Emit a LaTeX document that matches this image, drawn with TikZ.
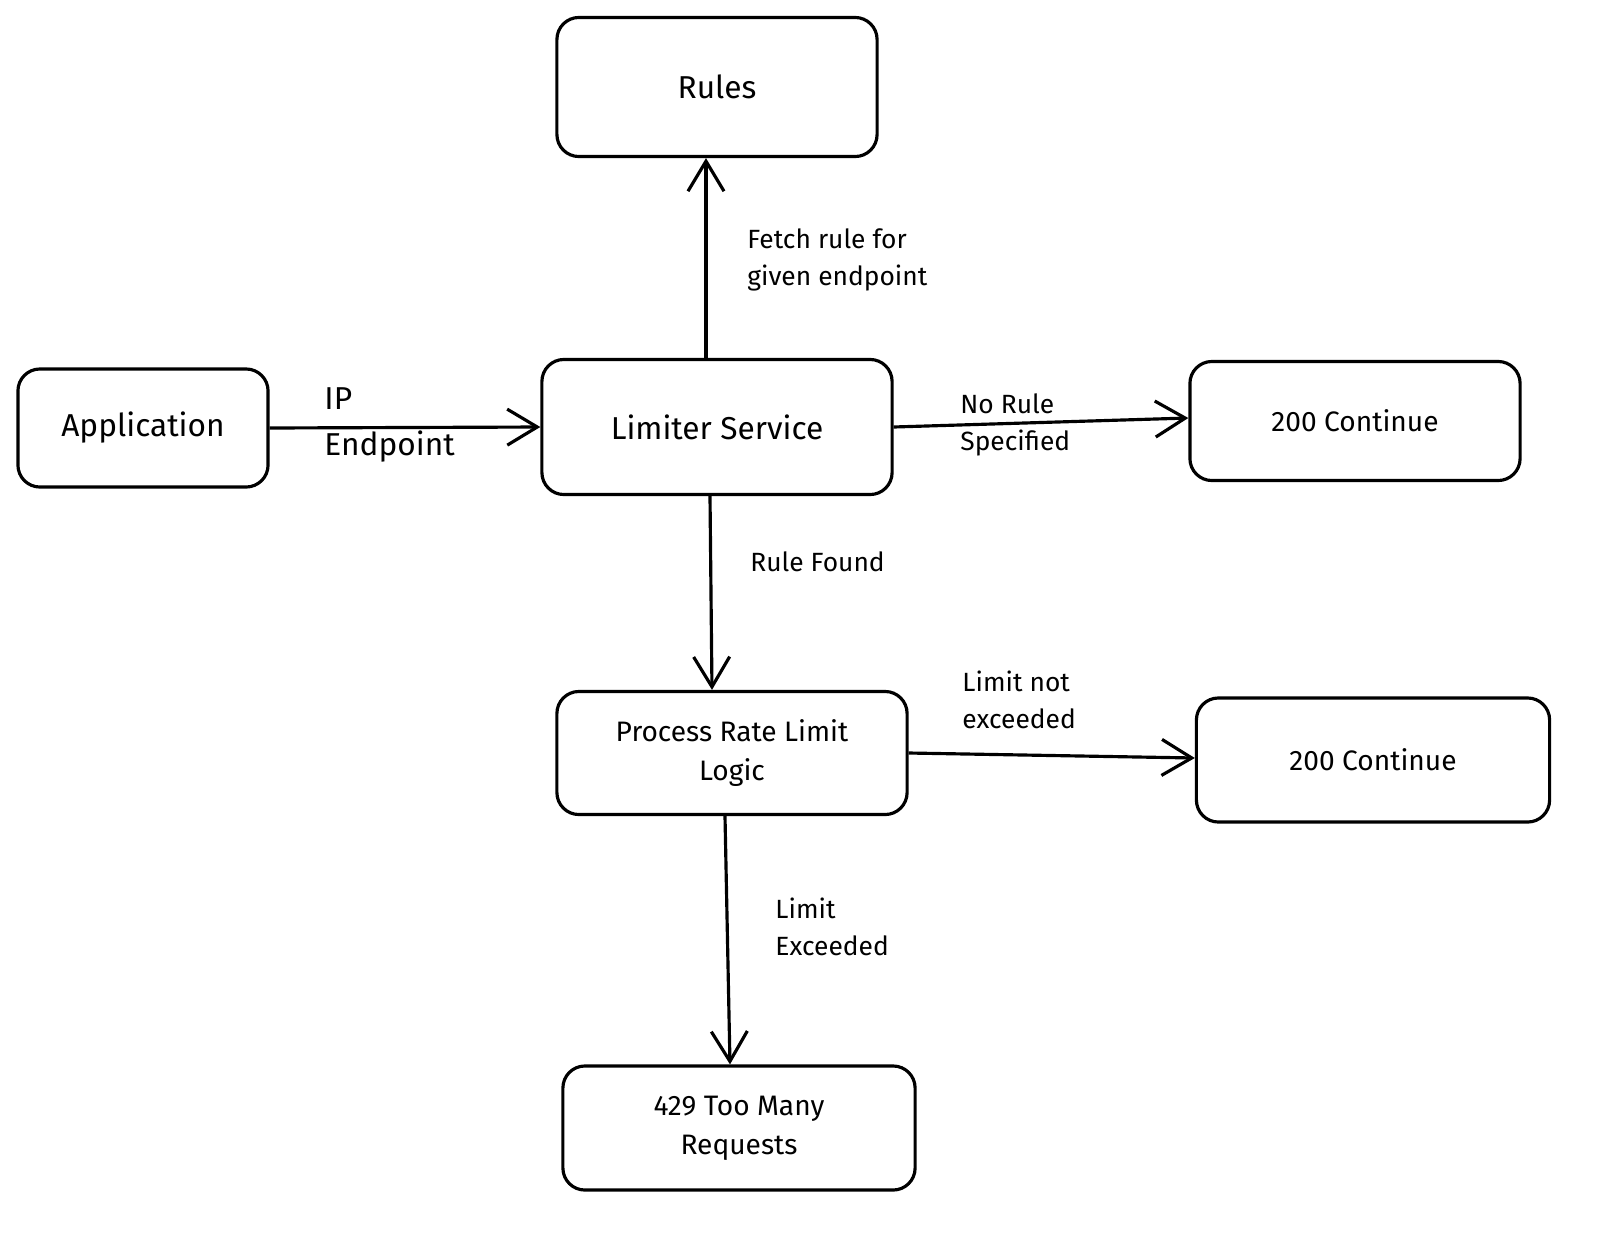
\documentclass[tikz,border=0pt]{standalone}
\usepackage{fontspec}
\setmainfont{Fira Sans}
\usetikzlibrary{arrows.meta}
\begin{document}
\begin{tikzpicture}[x=0.01cm,y=-0.01cm,
  box/.style={draw,line width=0.9pt,rounded corners=0.22cm,align=center,font=\fontsize{9}{12}\selectfont,inner sep=0pt},
  arr/.style={line width=0.9pt,-{Straight Barb[length=3mm,width=3.6mm,line width=0.9pt]}},
  lbl/.style={align=left,anchor=west,font=\fontsize{7.5}{10.5}\selectfont}]
\useasboundingbox (0,0) rectangle (1600,1233);
\node[box,minimum width=3.2cm,minimum height=1.39cm] (rules) at (717,87) {Rules};
\node[box,minimum width=2.5cm,minimum height=1.18cm] (app) at (143,428) {Application};
\node[box,minimum width=3.5cm,minimum height=1.35cm] (lim) at (717,427) {Limiter Service};
\node[box,minimum width=3.3cm,minimum height=1.19cm,font=\fontsize{8}{11}\selectfont] (ok1) at (1355,421) {200 Continue};
\node[box,minimum width=3.5cm,minimum height=1.23cm,font=\fontsize{8}{11}\selectfont] (proc) at (732,753) {Process Rate Limit\\Logic};
\node[box,minimum width=3.53cm,minimum height=1.24cm,font=\fontsize{8}{11}\selectfont] (ok2) at (1373,760) {200 Continue};
\node[box,minimum width=3.52cm,minimum height=1.24cm,font=\fontsize{8}{11}\selectfont] (tm) at (739,1128) {429 Too Many\\Requests};

\draw[arr] ([xshift=-0.11cm]lim.north) -- ([xshift=-0.11cm]rules.south);
\draw[arr] (app.east) -- (lim.west);
\draw[arr] (lim.east) -- ([yshift=0.03cm]ok1.west);
\draw[arr] ([xshift=-0.07cm]lim.south) -- ([xshift=-0.2cm]proc.north);
\draw[arr] (proc.east) -- ([yshift=0.02cm]ok2.west);
\draw[arr] ([xshift=-0.07cm]proc.south) -- ([xshift=-0.09cm]tm.north);

\node[lbl] (l1) at (735,260) {Fetch rule for\\given endpoint};
\node[lbl,font=\fontsize{9}{13}\selectfont] (l2) at (312,425) {IP\\Endpoint};
\node[lbl] (l3) at (948,425) {No Rule\\Specified};
\node[lbl] (l4) at (738,562) {Rule Found};
\node[lbl] (l5) at (950,700) {Limit not\\exceeded};
\node[lbl] (l6) at (763,927) {Limit\\Exceeded};
\end{tikzpicture}
\end{document}
